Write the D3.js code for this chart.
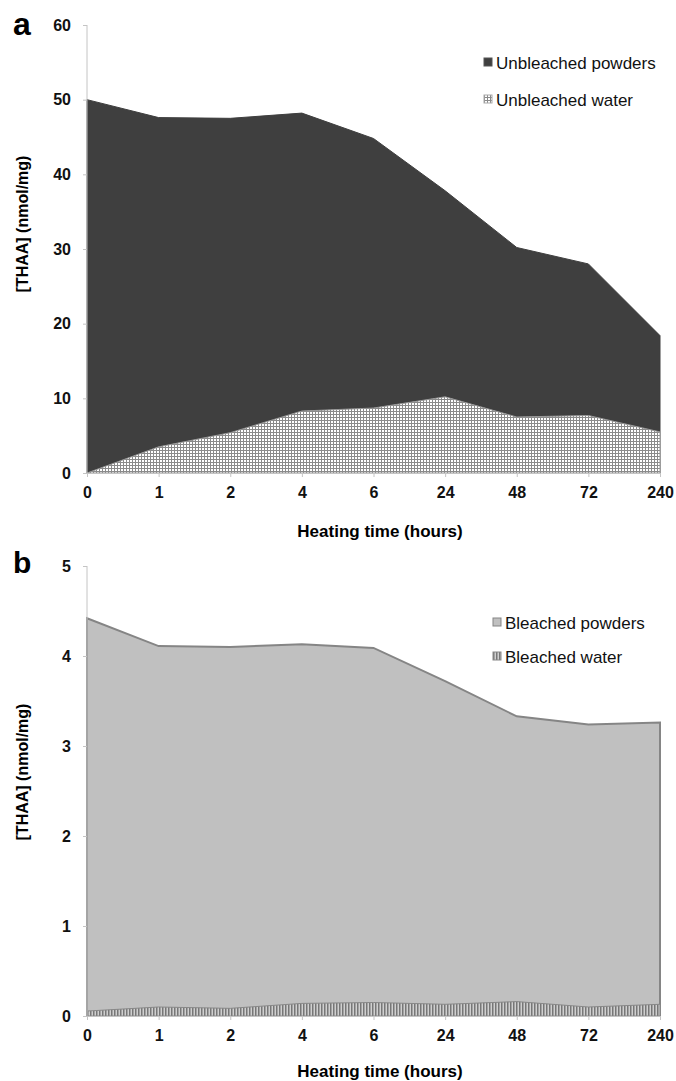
<!doctype html>
<html>
<head>
<style>
  body { margin: 0; background: #fff; }
  svg { display: block; font-family: "Liberation Sans", Arial, sans-serif; }
  .axis path, .axis line { stroke: #c4c4c4; }
  .axis text { font-size: 16px; font-weight: bold; fill: #111; }
</style>
<script src="https://d3js.org/d3.v7.min.js"></script>
</head>
<body>
<svg width="676" height="1081"></svg>
<script>
// heating time categories (hours)
var hours = ["0", "1", "2", "4", "6", "24", "48", "72", "240"];

// panel a: unbleached
var unbleachedPowders = [50.0, 47.6, 47.5, 48.2, 44.8, 37.8, 30.2, 28.0, 18.4];
var unbleachedWater   = [0.0, 3.5, 5.4, 8.3, 8.7, 10.2, 7.5, 7.7, 5.5];

// panel b: bleached
var bleachedPowders = [4.42, 4.11, 4.10, 4.13, 4.09, 3.72, 3.33, 3.24, 3.26];
var bleachedWater   = [0.055, 0.10, 0.085, 0.14, 0.15, 0.13, 0.16, 0.10, 0.13];

var ticksA = [0, 10, 20, 30, 40, 50, 60];
var ticksB = [0, 1, 2, 3, 4, 5];

var svg = d3.select("svg");
var defs = svg.append("defs");

// grid pattern for unbleached water
var grid = defs.append("pattern")
    .attr("id", "grid")
    .attr("patternUnits", "userSpaceOnUse")
    .attr("width", 3).attr("height", 3);
grid.append("rect").attr("width", 3).attr("height", 3).attr("fill", "#fff");
grid.append("path").attr("d", "M0,0.5H3M0.5,0V3")
    .attr("stroke", "#8a8a8a").attr("stroke-width", 1);

// vertical stripes for bleached water
var stripes = defs.append("pattern")
    .attr("id", "stripes")
    .attr("patternUnits", "userSpaceOnUse")
    .attr("width", 3).attr("height", 3);
stripes.append("rect").attr("width", 3).attr("height", 3).attr("fill", "#d0d0d0");
stripes.append("rect").attr("width", 1.5).attr("height", 3).attr("fill", "#777");

var x = d3.scalePoint().domain(hours).range([87, 660]);

function panel(opts) {
    var y = d3.scaleLinear().domain(opts.domain).range(opts.range);
    var g = svg.append("g");

    var area = d3.area()
        .x(function(d, i) { return x(hours[i]); })
        .y0(y(0))
        .y1(function(d) { return y(d); });

    g.append("path").datum(opts.powders)
        .attr("d", area)
        .attr("fill", opts.powderFill)
        .attr("stroke", opts.powderStroke)
        .attr("stroke-width", opts.powderStrokeW);

    g.append("path").datum(opts.water)
        .attr("d", area)
        .attr("fill", opts.waterFill)
        .attr("stroke", opts.waterStroke)
        .attr("stroke-width", 1);

    var ya = g.append("g").attr("class", "axis")
        .attr("transform", "translate(87,0)")
        .call(d3.axisLeft(y).tickValues(opts.ticks).tickFormat(d3.format("d"))
              .tickSize(4).tickPadding(12));
    ya.select(".domain").attr("d", "M0," + opts.range[1] + "V" + opts.range[0]);

    g.append("g").attr("class", "axis")
        .attr("transform", "translate(0," + opts.range[0] + ")")
        .call(d3.axisBottom(x).tickSize(4).tickPadding(10).tickSizeOuter(0));

    g.append("text")
        .attr("x", 13).attr("y", opts.letterY)
        .attr("font-size", opts.letterSize).attr("font-weight", "bold")
        .text(opts.letter);

    g.append("text")
        .attr("transform", "translate(28," + opts.titleY + ") rotate(-90)")
        .attr("text-anchor", "middle")
        .attr("font-size", "16px").attr("font-weight", "bold")
        .text("[THAA] (nmol/mg)");

    g.append("text")
        .attr("x", 380).attr("y", opts.range[0] + opts.xTitleDy)
        .attr("text-anchor", "middle")
        .attr("font-size", "17px").attr("font-weight", "bold")
        .text("Heating time (hours)");

    var lg = g.selectAll(".leg").data(opts.legend).enter().append("g")
        .attr("transform", function(d, i) {
            return "translate(" + opts.legendX + "," + (opts.legendY + i * opts.legendStep) + ")";
        });
    lg.append("rect")
        .attr("x", 0).attr("y", -11).attr("width", 8).attr("height", 8)
        .attr("fill", function(d) { return d.fill; })
        .attr("stroke", function(d) { return d.stroke; });
    lg.append("text")
        .attr("x", 12).attr("y", 0)
        .attr("font-size", "17px")
        .attr("fill", "#111")
        .text(function(d) { return d.name; });
}

panel({
    letter: "a", letterY: 35, letterSize: "32px",
    domain: [0, 60], range: [473, 25], ticks: ticksA,
    titleY: 224, xTitleDy: 64,
    powders: unbleachedPowders, water: unbleachedWater,
    powderFill: "#3f3f3f", powderStroke: "#3f3f3f", powderStrokeW: 1,
    waterFill: "url(#grid)", waterStroke: "#999",
    legendX: 484, legendY: 69, legendStep: 37,
    legend: [
        { name: "Unbleached powders", fill: "#3f3f3f", stroke: "#555" },
        { name: "Unbleached water", fill: "url(#grid)", stroke: "#aaa" }
    ]
});

panel({
    letter: "b", letterY: 573, letterSize: "30px",
    domain: [0, 5], range: [1016, 566], ticks: ticksB,
    titleY: 772, xTitleDy: 61,
    powders: bleachedPowders, water: bleachedWater,
    powderFill: "#c0c0c0", powderStroke: "#858585", powderStrokeW: 2,
    waterFill: "url(#stripes)", waterStroke: "#888",
    legendX: 493, legendY: 629, legendStep: 34,
    legend: [
        { name: "Bleached powders", fill: "#c0c0c0", stroke: "#858585" },
        { name: "Bleached water", fill: "url(#stripes)", stroke: "#888" }
    ]
});
</script>
</body>
</html>
